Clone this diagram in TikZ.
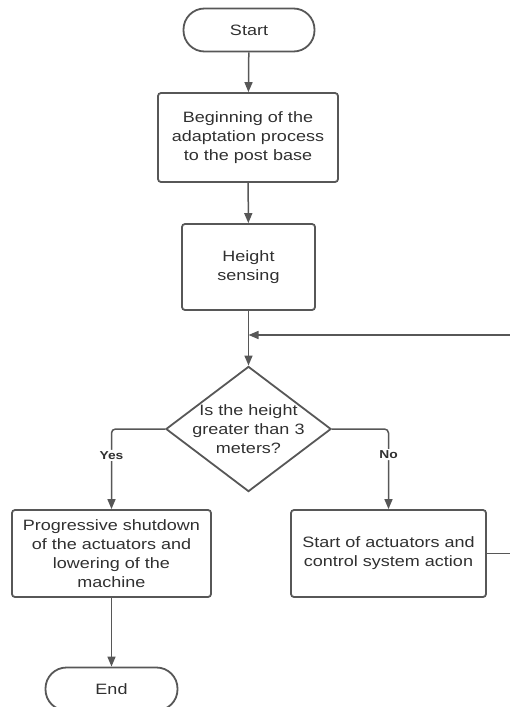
\documentclass[tikz,border=0pt]{standalone}
\usepackage{fontspec}
\setmainfont{Liberation Sans}[FakeStretch=1.2]
\usepackage{xcolor}
\usepackage{tikz}
\usetikzlibrary{arrows.meta,positioning,calc,shapes.geometric}
\definecolor{LineGray}{HTML}{575757}
\definecolor{InkGray}{HTML}{303030}

\begin{document}
\begin{tikzpicture}[
    x=1pt, y=-1pt,
    every node/.style={text=InkGray, font=\fontsize{15}{19}\selectfont},
    procbox/.style={
      draw=LineGray,
      line width=1.8pt,
      rounded corners=3pt,
      align=center,
      inner sep=0pt
    },
    terminal/.style={
      draw=LineGray,
      line width=1.8pt,
      rounded corners=21pt,
      minimum width=131pt,
      minimum height=43pt,
      inner sep=0pt
    },
    flow/.style={
      draw=LineGray,
      line width=1.5pt,
      -{Triangle[length=10pt,width=8pt]}
    },
    branch/.style={
      fill=white,
      inner sep=1.5pt,
      font=\bfseries\fontsize{11.5}{13}\selectfont
    }
  ]
  \useasboundingbox (0,0) rectangle (509,707);

  \node[terminal] (start) at (249,30) {Start};
  \node[procbox, minimum width=180pt, minimum height=89pt] (begin) at (248,137.5)
    {Beginning of the\\adaptation process\\to the post base};
  \node[procbox, minimum width=133pt, minimum height=86pt] (sense) at (248.5,267)
    {Height\\sensing};
  \node[
    draw=LineGray,
    line width=1.8pt,
    diamond,
    aspect=1.32,
    inner sep=-2.5pt,
    align=center
  ] (decide) at (248.5,429) {Is the height\\greater than 3\\meters?};
  \node[procbox, minimum width=199pt, minimum height=87pt] (shutdown) at (111.5,553.5)
    {Progressive shutdown\\of the actuators and\\lowering of the\\machine};
  \node[procbox, minimum width=195pt, minimum height=87pt] (action) at (388.5,553.5)
    {Start of actuators and\\control system action};
  \node[terminal, minimum width=132pt] (end) at (111.5,689) {End};

  \coordinate (merge) at (248.5,335);

  \draw[flow] (start) -- (begin);
  \draw[flow] (begin) -- (sense);
  \draw[flow] (sense) -- (decide);
  \draw[flow, rounded corners=4pt] (decide.west) -| node[branch, pos=0.665] {Yes} (shutdown.north);
  \draw[flow, rounded corners=4pt] (decide.east) -| node[branch, pos=0.66] {No} (action.north);
  \draw[flow] (shutdown) -- (end);
  % loop back into the sensing line
  \draw[flow] (action.east) -- ++(40,0) |- (merge);
\end{tikzpicture}
\end{document}
